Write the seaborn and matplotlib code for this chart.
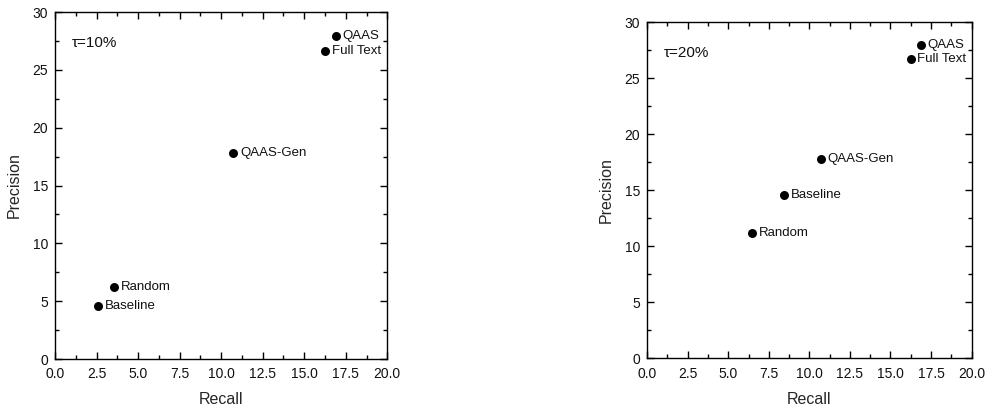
import matplotlib
matplotlib.use("Agg")
import matplotlib.pyplot as plt
import seaborn as sns
import pandas as pd
from matplotlib.ticker import MultipleLocator

# Data
methods_left = ["QAAS", "Full Text", "QAAS-Gen", "Random", "Baseline"]
recall_left = [16.9, 16.25, 10.73, 3.57, 2.6]
precision_left = [27.9, 26.65, 17.8, 6.25, 4.58]

methods_right = ["QAAS", "Full Text", "QAAS-Gen", "Baseline", "Random"]
recall_right = [16.87, 16.24, 10.69, 8.45, 6.47]
precision_right = [27.97, 26.7, 17.8, 14.58, 11.19]

panel_titles = ["τ=10%", "τ=20%"]

sns.set_theme(style="ticks")
plt.rcParams['font.family'] = ['Liberation Sans', 'DejaVu Sans']

fig = plt.figure(figsize=(9.85, 4.08), dpi=100)
ax1 = fig.add_axes([0.0558, 0.120, 0.3374, 0.8505])
ax2 = fig.add_axes([0.657, 0.1218, 0.3293, 0.8235])

panels = [
    (ax1, methods_left, recall_left, precision_left, panel_titles[0]),
    (ax2, methods_right, recall_right, precision_right, panel_titles[1]),
]

for ax, m, r, p, t in panels:
    df = pd.DataFrame({"Method": m, "Recall": r, "Precision": p})
    sns.scatterplot(data=df, x="Recall", y="Precision", ax=ax, color="black",
                    s=42, edgecolor="black", linewidth=0, legend=False, zorder=3)
    for name, x, y in zip(m, r, p):
        ax.annotate(name, (x, y), xytext=(5, 0), textcoords="offset points",
                    va="center", ha="left", fontsize=9.5, color="#111111")
    ax.set_xlim(0, 20)
    ax.set_ylim(0, 30)
    ax.xaxis.set_major_locator(MultipleLocator(2.5))
    ax.xaxis.set_minor_locator(MultipleLocator(1.25))
    ax.yaxis.set_major_locator(MultipleLocator(5))
    ax.yaxis.set_minor_locator(MultipleLocator(2.5))
    ax.set_xticklabels([f"{v:.1f}" for v in ax.get_xticks()])
    ax.set_yticklabels([f"{int(v)}" for v in ax.get_yticks()])
    ax.tick_params(which="both", direction="in", top=True, right=True,
                   bottom=True, left=True, color="black", labelsize=10,
                   labelcolor="#111111")
    ax.tick_params(axis="x", which="major", pad=6)
    ax.tick_params(axis="y", which="major", pad=5)
    ax.tick_params(which="major", length=5, width=1)
    ax.tick_params(which="minor", length=3, width=1)
    for sp in ax.spines.values():
        sp.set_color("black")
        sp.set_linewidth(1.0)
    ax.set_xlabel("Recall", fontsize=11.5, labelpad=8)
    ax.set_ylabel("Precision", fontsize=11.5, labelpad=8)
    ax.text(0.05, 0.91, t, transform=ax.transAxes, fontsize=11, va="center",
            ha="left", color="#111111")

fig.savefig("out.png", dpi=100)
